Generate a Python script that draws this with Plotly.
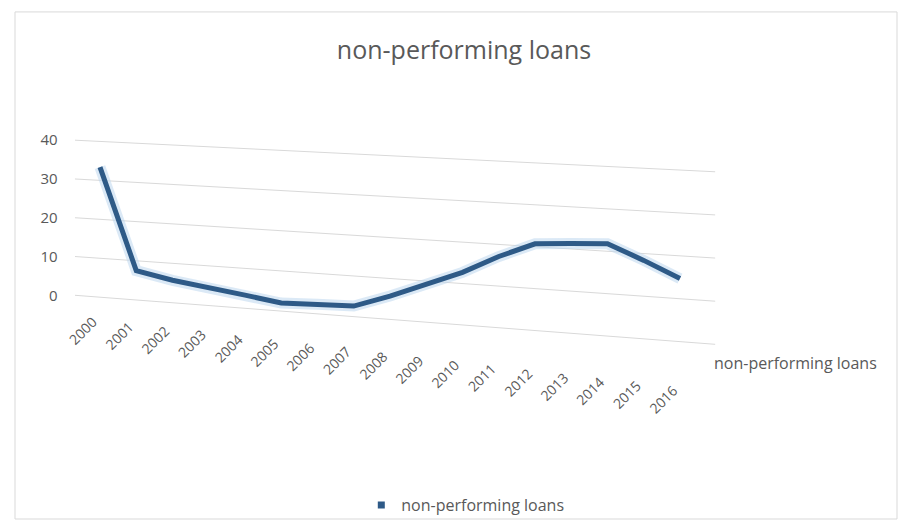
import plotly.graph_objects as go

# ---- data ----
years = [2000, 2001, 2002, 2003, 2004, 2005, 2006, 2007, 2008,
         2009, 2010, 2011, 2012, 2013, 2014, 2015, 2016]
npl = [33.4, 7.5, 5.7, 4.6, 3.3, 2.0, 2.4, 2.6, 5.7,
       9.2, 12.7, 17.1, 20.7, 21.3, 21.8, 18.4, 14.7]
y_ticks = [0, 10, 20, 30, 40]
series_name = "non-performing loans"
title_text = "non-performing loans"

# ---- 3D-perspective look (Excel 3-D line): value scale grows / floor drops to the right ----
I_WALL = -0.69      # index position of the back-left wall
I_END = 16.97       # right end of the gridlines
GROW = 0.00637      # perspective growth of the value scale per category
DROP = 0.716        # floor drop per category (in left-wall value units)


def proj(i, v):
    d = i - I_WALL
    return v * (1 + GROW * d) - DROP * d


idx = list(range(len(years)))
GRAY = "#595959"
LINE = "#2E5A87"
FONT = "Open Sans"

fig = go.Figure()

# sloped gridlines
for t in y_ticks:
    fig.add_trace(go.Scatter(
        x=[I_WALL, I_END], y=[proj(I_WALL, t), proj(I_END, t)],
        mode="lines", line=dict(color="#D9D9D9", width=1),
        hoverinfo="skip", showlegend=False))

# ribbon halo
fig.add_trace(go.Scatter(
    x=idx, y=[proj(i, v) for i, v in zip(idx, npl)],
    mode="lines", line=dict(color="rgba(189,215,238,0.55)", width=11),
    hoverinfo="skip", showlegend=False))

# main line
fig.add_trace(go.Scatter(
    x=idx, y=[proj(i, v) for i, v in zip(idx, npl)],
    mode="lines", line=dict(color=LINE, width=5),
    customdata=list(zip(years, npl)),
    hovertemplate="%{customdata[0]}: %{customdata[1]}<extra></extra>",
    name=series_name, showlegend=False))

# legend entry (square marker as in the original)
fig.add_trace(go.Scatter(
    x=[None], y=[None], mode="markers",
    marker=dict(symbol="square", size=7, color=LINE),
    name=series_name, showlegend=True))

# category labels along the sloped front edge
for i, yr in zip(idx, years):
    fig.add_annotation(
        x=i - 0.47, y=-9.2 - 1.1 * i, text=str(yr), textangle=-45,
        showarrow=False, xanchor="center", yanchor="middle",
        font=dict(family=FONT, size=14, color=GRAY))

# series-axis label on the right
fig.add_annotation(
    xref="paper", yref="paper", x=795 / 900, y=1 - 365 / 522,
    text=series_name, showarrow=False, xanchor="center", yanchor="middle",
    font=dict(family=FONT, size=16, color=GRAY))

fig.update_layout(
    width=900, height=522,
    margin=dict(l=0, r=0, t=0, b=0),
    paper_bgcolor="white", plot_bgcolor="white",
    font=dict(family=FONT, color=GRAY),
    title=dict(text=title_text, x=464 / 900, y=1 - 50 / 522,
               xanchor="center", yanchor="middle",
               font=dict(family=FONT, size=25, color=GRAY)),
    xaxis=dict(range=[-100 / 36.25, 800 / 36.25], visible=False),
    yaxis=dict(range=[(297 - 522) / 3.9, 297 / 3.9],
               anchor="free", position=0.064, side="left",
               tickvals=y_ticks, ticktext=[str(t) for t in y_ticks],
               showgrid=False, zeroline=False, showline=False, ticks="",
               tickfont=dict(family=FONT, size=15, color=GRAY)),
    legend=dict(orientation="h", x=0.517, xanchor="center",
                y=(522 - 508) / 522, yanchor="middle",
                font=dict(family=FONT, size=16, color=GRAY),
                bgcolor="rgba(0,0,0,0)"),
    shapes=[dict(type="rect", xref="paper", yref="paper",
                 x0=15 / 900, x1=897 / 900, y0=0, y1=1 - 12 / 522,
                 line=dict(color="#D9D9D9", width=1))],
)

fig.write_html("out.html")
